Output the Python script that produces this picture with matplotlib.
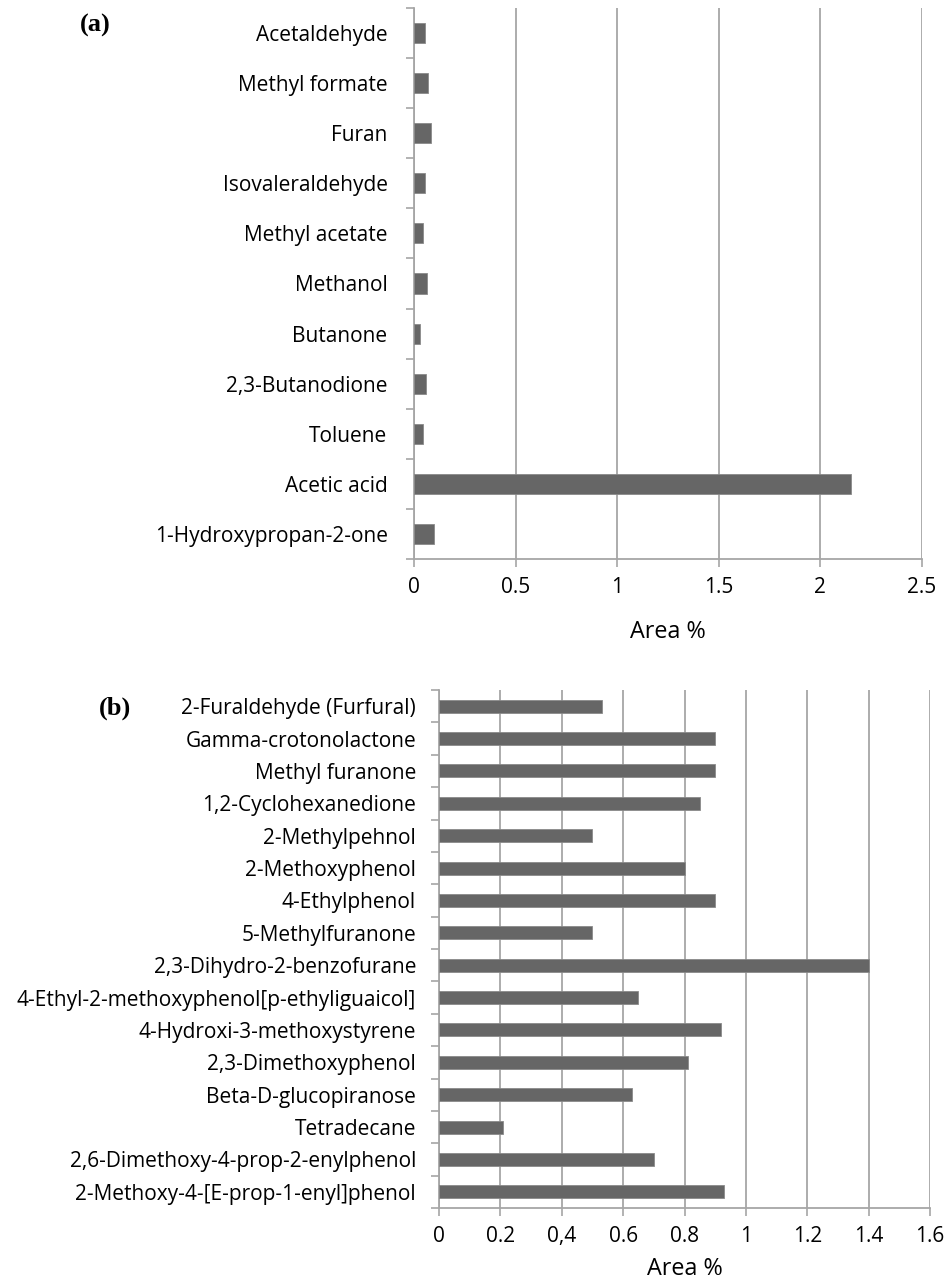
import numpy as np
import matplotlib
matplotlib.use('Agg')
import matplotlib.pyplot as plt
from matplotlib.ticker import FixedLocator

plt.rcParams['font.family'] = ['Open Sans', 'DejaVu Sans']

# panel (a): volatile compounds, top to bottom
names_a = ['Acetaldehyde', 'Methyl formate', 'Furan', 'Isovaleraldehyde',
           'Methyl acetate', 'Methanol', 'Butanone', '2,3-Butanodione',
           'Toluene', 'Acetic acid', '1-Hydroxypropan-2-one']
area_a = [0.052, 0.070, 0.082, 0.052, 0.046, 0.064, 0.030, 0.058, 0.046, 2.15, 0.098]
ticks_a = [0, 0.5, 1, 1.5, 2, 2.5]
ticklabels_a = ['0', '0.5', '1', '1.5', '2', '2.5']

# panel (b): heavier compounds, top to bottom
names_b = ['2-Furaldehyde (Furfural)', 'Gamma-crotonolactone', 'Methyl furanone',
           '1,2-Cyclohexanedione', '2-Methylpehnol', '2-Methoxyphenol',
           '4-Ethylphenol', '5-Methylfuranone', '2,3-Dihydro-2-benzofurane',
           '4-Ethyl-2-methoxyphenol[p-ethyliguaicol]', '4-Hydroxi-3-methoxystyrene',
           '2,3-Dimethoxyphenol', 'Beta-D-glucopiranose', 'Tetradecane',
           '2,6-Dimethoxy-4-prop-2-enylphenol', '2-Methoxy-4-[E-prop-1-enyl]phenol']
area_b = [0.53, 0.90, 0.90, 0.85, 0.50, 0.80, 0.90, 0.50, 1.40, 0.65, 0.92,
          0.81, 0.63, 0.21, 0.70, 0.93]
ticks_b = [0, 0.2, 0.4, 0.6, 0.8, 1.0, 1.2, 1.4, 1.6]
ticklabels_b = ['0', '0.2', '0,4', '0.6', '0.8', '1', '1.2', '1.4', '1.6']

W, H = 946, 1288
fig = plt.figure(figsize=(W / 100, H / 100), dpi=100)

grid_c = '#a6a6a6'
bar_c = '#666666'


def panel(rect, names, vals, ticks, ticklabels, fs, ypad, xlpad):
    ax = fig.add_axes(rect)
    n = len(names)
    y = np.arange(n)[::-1]
    ax.barh(y, vals, height=0.4, color=bar_c, edgecolor='#8a8a8a', linewidth=0.6, zorder=3)
    ax.set_ylim(-0.5, n - 0.5)
    ax.set_xlim(ticks[0], ticks[-1])
    ax.set_yticks(y)
    ax.set_yticklabels(names, fontsize=fs)
    ax.yaxis.set_minor_locator(FixedLocator(np.arange(n + 1) - 0.5))
    ax.tick_params(axis='y', which='major', length=0, pad=ypad)
    ax.tick_params(axis='y', which='minor', length=6, width=1.2, color=grid_c)
    ax.set_xticks(ticks)
    ax.set_xticklabels(ticklabels, fontsize=fs)
    ax.tick_params(axis='x', length=6, width=1.2, color=grid_c, pad=7)
    ax.xaxis.grid(True, color=grid_c, linewidth=1.3, zorder=0)
    for s in ['top', 'right']:
        ax.spines[s].set_visible(False)
    for s in ['left', 'bottom']:
        ax.spines[s].set_color(grid_c)
        ax.spines[s].set_linewidth(1.3)
    ax.set_xlabel('Area %', fontsize=fs + 1.8, labelpad=xlpad)
    return ax


def frac(l, t, r, b):
    return [l / W, 1 - b / H, (r - l) / W, (b - t) / H]


ax_a = panel(frac(414, 8, 922, 559), names_a, area_a, ticks_a, ticklabels_a, 15, 19, 16)
ax_b = panel(frac(439, 690, 930, 1208), names_b, area_b, ticks_b, ticklabels_b, 15, 16.5, 7)

fig.text(95 / W, 1 - 25 / H, '(a)', fontsize=19, fontweight='bold',
         family='Liberation Serif', ha='center', va='center')
fig.text(115 / W, 1 - 708 / H, '(b)', fontsize=19, fontweight='bold',
         family='Liberation Serif', ha='center', va='center')

fig.savefig('out.png', dpi=100, facecolor='white')
